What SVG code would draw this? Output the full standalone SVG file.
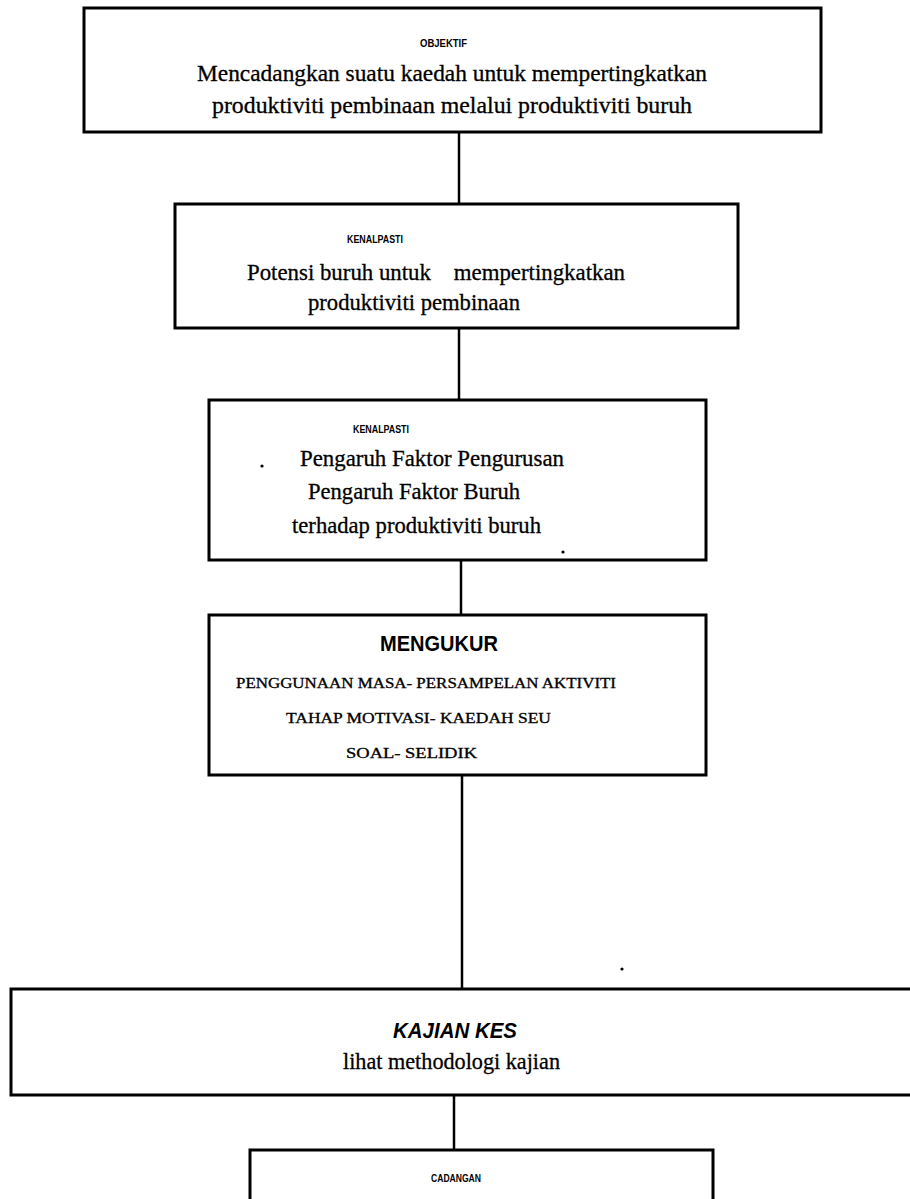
<svg xmlns="http://www.w3.org/2000/svg" width="910" height="1199" viewBox="0 0 910 1199">
<style>
.box{fill:#fff;stroke:#000;stroke-width:3}
.con{stroke:#000;stroke-width:2.5;fill:none}
.lab{font-family:"Liberation Sans",Arial,sans-serif;font-weight:bold;font-size:11px;fill:#000}
.ser{font-family:"Liberation Serif","Times New Roman",serif;font-size:23px;fill:#000;stroke:#000;stroke-width:0.3}
.cap{font-family:"Liberation Serif","Times New Roman",serif;font-size:14px;fill:#000;stroke:#000;stroke-width:0.3}
.big{font-family:"Liberation Sans",Arial,sans-serif;font-weight:bold;font-size:22px;fill:#000}
.dot{fill:#000}
</style>
<rect width="910" height="1199" fill="#fff"/>
<g id="connectors">
<line class="con" x1="459" y1="132" x2="459" y2="204"/>
<line class="con" x1="459" y1="328" x2="459" y2="400"/>
<line class="con" x1="461" y1="560" x2="461" y2="615"/>
<line class="con" x1="462" y1="775" x2="462" y2="989"/>
<line class="con" x1="454" y1="1095" x2="454" y2="1150"/>
</g>
<g id="objektif">
<rect class="box" x="84" y="8" width="737" height="124"/>
<text class="lab" x="420" y="47" textLength="47" lengthAdjust="spacingAndGlyphs">OBJEKTIF</text>
<text class="ser" x="197" y="81" textLength="510" lengthAdjust="spacingAndGlyphs">Mencadangkan suatu kaedah untuk mempertingkatkan</text>
<text class="ser" x="212" y="113" textLength="480" lengthAdjust="spacingAndGlyphs">produktiviti pembinaan melalui produktiviti buruh</text>
</g>
<g id="kenalpasti1">
<rect class="box" x="175" y="204" width="563" height="124"/>
<text class="lab" x="347" y="243" textLength="56" lengthAdjust="spacingAndGlyphs">KENALPASTI</text>
<text class="ser" x="247" y="280" textLength="378" lengthAdjust="spacingAndGlyphs" style="white-space:pre">Potensi buruh untuk    mempertingkatkan</text>
<text class="ser" x="308" y="310" textLength="212" lengthAdjust="spacingAndGlyphs">produktiviti pembinaan</text>
</g>
<g id="kenalpasti2">
<rect class="box" x="209" y="400" width="497" height="160"/>
<text class="lab" x="353" y="433" textLength="56" lengthAdjust="spacingAndGlyphs">KENALPASTI</text>
<circle class="dot" cx="262" cy="466" r="1.6"/>
<text class="ser" x="300" y="466" textLength="264" lengthAdjust="spacingAndGlyphs">Pengaruh Faktor Pengurusan</text>
<text class="ser" x="308" y="499" textLength="212" lengthAdjust="spacingAndGlyphs">Pengaruh Faktor Buruh</text>
<text class="ser" x="292" y="533" textLength="249" lengthAdjust="spacingAndGlyphs">terhadap produktiviti buruh</text>
<circle class="dot" cx="563" cy="552" r="1.6"/>
</g>
<g id="mengukur">
<rect class="box" x="209" y="615" width="497" height="160"/>
<text class="big" x="380" y="651" textLength="118" lengthAdjust="spacingAndGlyphs">MENGUKUR</text>
<text class="cap" x="236" y="688" textLength="380" lengthAdjust="spacingAndGlyphs">PENGGUNAAN MASA- PERSAMPELAN AKTIVITI</text>
<text class="cap" x="286" y="723" textLength="265" lengthAdjust="spacingAndGlyphs">TAHAP MOTIVASI- KAEDAH SEU</text>
<text class="cap" x="346" y="758" textLength="131" lengthAdjust="spacingAndGlyphs">SOAL- SELIDIK</text>
</g>
<circle class="dot" cx="622" cy="969" r="1.6"/>
<g id="kajian-kes">
<rect class="box" x="11" y="989" width="910" height="106"/>
<text class="big" x="393" y="1038" font-style="italic" font-size="24" textLength="124" lengthAdjust="spacingAndGlyphs">KAJIAN KES</text>
<text class="ser" x="343" y="1069" textLength="217" lengthAdjust="spacingAndGlyphs">lihat methodologi kajian</text>
</g>
<g id="cadangan">
<rect class="box" x="250" y="1150" width="463" height="80"/>
<text class="lab" x="431" y="1182" textLength="50" lengthAdjust="spacingAndGlyphs">CADANGAN</text>
</g>
</svg>
